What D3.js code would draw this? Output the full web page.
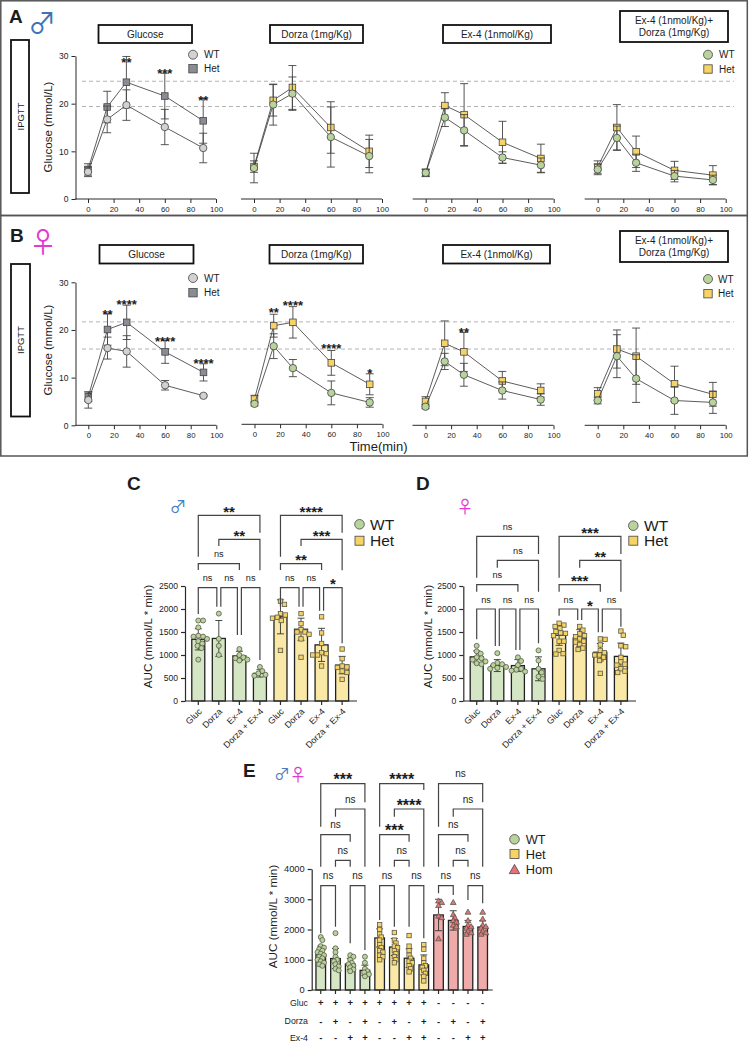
<!DOCTYPE html>
<html>
<head>
<meta charset="utf-8">
<script src="https://cdn.jsdelivr.net/npm/d3@7"></script>
<style>
  html, body {margin:0; padding:0; background:#fff;}
  text {font-family:"Liberation Sans", Arial, sans-serif; fill:#1c1c1c;}
</style>
</head>
<body>
<div id="chart"></div>
<script>
// time course, minutes
const timePoints = [0, 15, 30, 60, 90];
const timeTicks = [0, 20, 40, 60, 80, 100];
const glucoseTicks = [0, 10, 20, 30];

// panel A, male. mean + sd per drug
const aGlucWT = [5.7, 16.7, 19.7, 15.1, 10.7];
const aGlucWTsd = [1.0, 2.8, 3.2, 3.7, 3.1];
const aGlucHet = [6.2, 19.3, 24.5, 21.6, 16.4];
const aGlucHetsd = [1.2, 3.3, 5.4, 4.8, 4.7];
const aDorWT = [6.5, 19.8, 22.1, 13.0, 9.0];
const aDorWTsd = [3.1, 4.3, 3.5, 6.3, 3.5];
const aDorHet = [6.8, 20.7, 23.4, 15.0, 10.0];
const aDorHetsd = [1.2, 3.3, 4.6, 5.4, 3.4];
const aExWT = [5.5, 17.1, 14.4, 8.7, 7.1];
const aExWTsd = [0.8, 1.9, 3.3, 1.2, 1.5];
const aExHet = [5.5, 19.6, 17.7, 11.9, 8.5];
const aExHetsd = [0.7, 2.7, 6.5, 4.4, 3.0];
const aComboWT = [6.2, 12.8, 7.6, 4.8, 4.0];
const aComboWTsd = [1.1, 2.5, 1.8, 1.2, 1.0];
const aComboHet = [6.7, 15.0, 9.9, 6.0, 5.0];
const aComboHetsd = [1.3, 4.8, 3.3, 1.9, 2.0];

// panel B, female
const bGlucWT = [5.3, 16.2, 15.5, 8.4, 6.2];
const bGlucWTsd = [1.7, 2.3, 3.3, 1.0, 0.2];
const bGlucHet = [6.0, 20.1, 21.6, 15.4, 11.1];
const bGlucHetsd = [1.0, 3.3, 3.6, 2.4, 1.8];
const bDorWT = [4.5, 16.6, 12.0, 6.8, 4.8];
const bDorWTsd = [0.4, 2.6, 1.8, 2.5, 1.0];
const bDorHet = [5.5, 20.9, 21.6, 13.1, 8.6];
const bDorHetsd = [0.8, 2.4, 3.3, 2.6, 2.2];
const bExWT = [3.9, 13.4, 10.6, 7.3, 5.4];
const bExWTsd = [0.4, 1.7, 2.4, 1.8, 1.2];
const bExHet = [5.0, 17.2, 15.4, 9.3, 7.3];
const bExHetsd = [1.0, 4.7, 4.1, 2.0, 1.4];
const bComboWT = [5.2, 14.5, 9.8, 5.2, 4.8];
const bComboWTsd = [0.7, 4.5, 5.0, 2.9, 2.3];
const bComboHet = [6.6, 16.0, 14.5, 8.7, 6.5];
const bComboHetsd = [1.3, 4.0, 5.9, 3.7, 2.5];

// AUC bars
const aucCats = ["Gluc", "Dorza", "Ex-4", "Dorza + Ex-4"];
const aucTicks = [0, 500, 1000, 1500, 2000, 2500];
const eTicks = [0, 1000, 2000, 3000, 4000];

const cMeans = [1340, 1360, 980, 600, 1830, 1560, 1220, 780];
const cSd = [230, 390, 100, 80, 370, 240, 360, 190];
const cPts = [
  [1750, 1750, 1600, 1420, 1400, 1400, 1350, 1300, 1250, 1200, 1150, 900],
  [1900, 1350, 1200, 1000],
  [1130, 1000, 950, 930, 900, 880],
  [740, 650, 600, 570, 550],
  [2170, 2100, 1900, 1870, 1820, 1800, 1750, 1100],
  [1900, 1680, 1550, 1500, 1500, 1450, 1350, 950],
  [1830, 1480, 1250, 1050, 1030, 1000, 1000, 760],
  [1130, 920, 760, 740, 730, 650, 620, 470]
];

const dMeans = [960, 770, 770, 700, 1430, 1370, 1060, 970];
const dSd = [130, 130, 130, 260, 220, 180, 190, 290];
const dPts = [
  [1200, 1080, 1030, 950, 930, 900, 860, 820, 800],
  [1040, 830, 800, 780, 740, 720, 700],
  [950, 870, 780, 700, 680, 660, 640],
  [1100, 880, 700, 620, 530, 480],
  [1690, 1650, 1620, 1580, 1510, 1480, 1470, 1420, 1300, 1300, 1100, 1030, 1020],
  [1620, 1540, 1460, 1420, 1400, 1350, 1300, 1280, 1230, 1150, 1120],
  [1350, 1340, 1220, 1100, 1050, 1000, 1000, 950, 880, 600],
  [1520, 1430, 1200, 1180, 950, 850, 800, 780, 700, 650, 620]
];

const eMeans = [1170, 1040, 860, 650, 1720, 1420, 1050, 830, 2480, 2300, 2100, 2080];
const eSd = [280, 330, 190, 170, 300, 280, 310, 330, 520, 320, 200, 210];
const ePts = [
  [1750, 1650, 1450, 1400, 1350, 1300, 1250, 1200, 1150, 1100, 1050, 1000, 950, 900, 850, 800],
  [1880, 1380, 1250, 1100, 1000, 950, 850, 780, 700, 650],
  [1150, 1100, 1000, 900, 850, 800, 750, 680, 620],
  [1100, 900, 700, 620, 580, 520, 450],
  [2160, 2000, 1850, 1750, 1650, 1500, 1400, 1300, 1250, 1150, 1100, 1000],
  [1900, 1650, 1550, 1450, 1400, 1300, 1200, 1100, 1000, 900],
  [1800, 1450, 1300, 1150, 1050, 950, 900, 800, 700, 600],
  [1500, 1350, 1050, 900, 800, 750, 650, 550, 450, 300],
  [2950, 2900, 2800, 2450, 2400, 1700],
  [2900, 2500, 2400, 2300, 2250, 2150, 2100],
  [2580, 2300, 2150, 2100, 2050, 1950, 1900, 1850],
  [2580, 2350, 2150, 2100, 2050, 1950, 1900, 1850]
];
const rowGluc = ["+", "+", "+", "+", "+", "+", "+", "+", "-", "-", "-", "-"];
const rowDorza = ["-", "+", "-", "+", "-", "+", "-", "+", "-", "+", "-", "+"];
const rowEx = ["-", "-", "+", "+", "-", "-", "+", "+", "-", "-", "+", "+"];

const GREY_WT = "#d2d2d2", GREY_HET = "#8b8b95";
const GREEN = "#b8d39b", YELLOW = "#f6d365", RED = "#e2727c";
const BAR_GREEN = "#d5e6c5", BAR_YELLOW = "#fae8a6", BAR_RED = "#f0aaaa";
const SEX_FONT = '"Noto Sans CJK JP"';

const svg = d3.select("#chart").append("svg")
  .attr("width", 750)
  .attr("height", 1042)
  .style("display", "block");

function label(x, y, str, size, opts) {
  opts = opts || {};
  const t = svg.append("text")
    .attr("x", x).attr("y", y)
    .attr("font-size", size)
    .attr("text-anchor", opts.anchor || "middle")
    .attr("font-weight", opts.bold ? "bold" : "normal")
    .text(str);
  if (opts.rotate) t.attr("transform", `rotate(${opts.rotate},${x},${y})`);
  if (opts.fill) t.style("fill", opts.fill);
  if (opts.font) t.style("font-family", opts.font);
  return t;
}

function box(x0, y0, x1, y1, lines, size) {
  svg.append("rect")
    .attr("x", x0).attr("y", y0)
    .attr("width", x1 - x0).attr("height", y1 - y0)
    .attr("fill", "#fff").attr("stroke", "#111").attr("stroke-width", 1.8);
  const mid = (y0 + y1) / 2;
  lines.forEach((l, i) => {
    label((x0 + x1) / 2, mid + 3.5 + (i - (lines.length - 1) / 2) * 12, l, size);
  });
}

function marker(g, shape, x, y, size, fill, stroke, sw) {
  if (shape === "circle") {
    g.append("circle").attr("cx", x).attr("cy", y).attr("r", size / 2)
      .attr("fill", fill).attr("stroke", stroke).attr("stroke-width", sw);
  } else if (shape === "square") {
    g.append("rect").attr("x", x - size / 2).attr("y", y - size / 2)
      .attr("width", size).attr("height", size)
      .attr("fill", fill).attr("stroke", stroke).attr("stroke-width", sw);
  } else {
    const h = size * 0.9;
    g.append("path")
      .attr("d", `M${x},${y - h / 2 - 0.6}L${x + size / 2 + 0.4},${y + h / 2}L${x - size / 2 - 0.4},${y + h / 2}Z`)
      .attr("fill", fill).attr("stroke", stroke).attr("stroke-width", sw);
  }
}

function styleAxis(g, fontSize, sw) {
  g.selectAll("path").attr("stroke", "#2a2a2a").attr("stroke-width", sw);
  g.selectAll("line").attr("stroke", "#2a2a2a").attr("stroke-width", sw);
  g.selectAll("text")
    .attr("font-size", fontSize)
    .style("font-family", '"Liberation Sans", Arial, sans-serif')
    .style("fill", "#1c1c1c");
}

// ---- line plots
function timeSeries(x, y, means, sds, shape, fill) {
  const g = svg.append("g");
  timePoints.forEach((t, i) => {
    const hi = y(means[i] + sds[i]), lo = y(means[i] - sds[i]);
    g.append("path")
      .attr("d", `M${x(t)},${hi}V${lo}M${x(t) - 4},${hi}H${x(t) + 4}M${x(t) - 4},${lo}H${x(t) + 4}`)
      .attr("fill", "none").attr("stroke", "#444").attr("stroke-width", 0.9);
  });
  const line = d3.line().x((d, i) => x(timePoints[i])).y(d => y(d));
  g.append("path").datum(means).attr("d", line)
    .attr("fill", "none").attr("stroke", "#333").attr("stroke-width", 0.8);
  return () => means.forEach((m, i) => {
    marker(g, shape, x(timePoints[i]), y(m), shape === "circle" ? 7.4 : 6.6, fill, "#444", 0.8);
  });
}

function timePlot(o) {
  const x = d3.scaleLinear().domain([0, 100]).range([o.x0, o.x0 + 128]);
  const y = o.y;
  const axis = svg.append("g")
    .attr("transform", `translate(0,${o.axisY})`)
    .call(d3.axisBottom(x).tickValues(timeTicks).tickSize(4).tickSizeOuter(0));
  axis.select(".domain").attr("d", `M${o.x0 - 13},0H${o.x0 + 128}`);
  styleAxis(axis, 7.8, 1);
  // WT goes on top of Het
  const hetDots = timeSeries(x, y, o.het, o.hetSd, "square", o.hetFill);
  const wtDots = timeSeries(x, y, o.wt, o.wtSd, "circle", o.wtFill);
  hetDots();
  wtDots();
  (o.stars || []).forEach(s => {
    label(x(s[0]), y(s[1]) + 7.5, s[2], 13, {bold: true});
  });
}

function yAxisGlucose(y) {
  const g = svg.append("g")
    .attr("transform", "translate(75.5,0)")
    .call(d3.axisLeft(y).tickValues(glucoseTicks).tickSize(4).tickSizeOuter(0));
  styleAxis(g, 8.5, 1);
}

function legend2(x, y1, y2, fillA, fillB, tx) {
  const g = svg.append("g");
  marker(g, "circle", x, y1, 9, fillA, "#444", 0.8);
  marker(g, "square", x, y2, 8.4, fillB, "#444", 0.8);
  label(tx, y1 + 3.5, "WT", 10, {anchor: "start"});
  label(tx, y2 + 3.5, "Het", 10, {anchor: "start"});
}

// panel frames
svg.append("rect").attr("x", 0.8).attr("y", 0.8).attr("width", 746.5).attr("height", 214.7)
  .attr("fill", "none").attr("stroke", "#555").attr("stroke-width", 1.5);
svg.append("rect").attr("x", 0.8).attr("y", 215.5).attr("width", 746.5).attr("height", 240.5)
  .attr("fill", "none").attr("stroke", "#555").attr("stroke-width", 1.5);

const yA = d3.scaleLinear().domain([0, 30]).range([199, 56]);
const yB = d3.scaleLinear().domain([0, 30]).range([425.3, 282.3]);

// dashed reference lines
[[yA, 24.7], [yA, 19.4], [yB, 21.7], [yB, 16]].forEach(d => {
  svg.append("line").attr("x1", 82).attr("x2", 734)
    .attr("y1", d[0](d[1])).attr("y2", d[0](d[1]))
    .attr("stroke", "#aaa").attr("stroke-width", 0.9).attr("stroke-dasharray", "4,3");
});

label(9, 23, "A", 19, {anchor: "start", bold: true});
label(10, 242, "B", 19, {anchor: "start", bold: true});
label(42, 34, "♂", 28, {fill: "#3d74b8", font: SEX_FONT});
label(43, 252.5, "♀", 28, {fill: "#e23bd0", font: SEX_FONT});

box(11, 40, 29, 193, [], 10);
label(23.5, 116.5, "IPGTT", 9.5, {rotate: -90});
box(11, 264, 30, 416.5, [], 10);
label(24, 340, "IPGTT", 9.5, {rotate: -90});

box(98.5, 25, 192, 43, ["Glucose"], 10);
box(270, 25, 363, 43, ["Dorza (1mg/Kg)"], 10);
box(443, 25, 551, 43, ["Ex-4 (1nmol/Kg)"], 10);
box(620, 11, 728, 42, ["Ex-4 (1nmol/Kg)+", "Dorza (1mg/Kg)"], 10);
box(99.5, 245, 193.5, 263.5, ["Glucose"], 10);
box(269.5, 245, 363, 263.5, ["Dorza (1mg/Kg)"], 10);
box(443, 245, 550, 263.5, ["Ex-4 (1nmol/Kg)"], 10);
box(620, 231, 728, 262, ["Ex-4 (1nmol/Kg)+", "Dorza (1mg/Kg)"], 10);

yAxisGlucose(yA);
yAxisGlucose(yB);
label(52, 127, "Glucose (mmol/L)", 11.5, {rotate: -90});
label(52, 350, "Glucose (mmol/L)", 11.5, {rotate: -90});

timePlot({x0: 88, y: yA, axisY: 199, wt: aGlucWT, wtSd: aGlucWTsd, het: aGlucHet, hetSd: aGlucHetsd,
  wtFill: GREY_WT, hetFill: GREY_HET, stars: [[30, 29.3, "**"], [60, 27, "***"], [90, 21.3, "**"]]});
timePlot({x0: 254, y: yA, axisY: 199, wt: aDorWT, wtSd: aDorWTsd, het: aDorHet, hetSd: aDorHetsd,
  wtFill: GREEN, hetFill: YELLOW});
timePlot({x0: 425.7, y: yA, axisY: 199, wt: aExWT, wtSd: aExWTsd, het: aExHet, hetSd: aExHetsd,
  wtFill: GREEN, hetFill: YELLOW});
timePlot({x0: 597.7, y: yA, axisY: 199, wt: aComboWT, wtSd: aComboWTsd, het: aComboHet, hetSd: aComboHetsd,
  wtFill: GREEN, hetFill: YELLOW});

timePlot({x0: 88.3, y: yB, axisY: 425.3, wt: bGlucWT, wtSd: bGlucWTsd, het: bGlucHet, hetSd: bGlucHetsd,
  wtFill: GREY_WT, hetFill: GREY_HET,
  stars: [[15, 23.8, "**"], [30, 25.9, "****"], [60, 18.3, "****"], [90, 13.6, "****"]]});
timePlot({x0: 254.5, y: yB, axisY: 424.3, wt: bDorWT, wtSd: bDorWTsd, het: bDorHet, hetSd: bDorHetsd,
  wtFill: GREEN, hetFill: YELLOW,
  stars: [[15, 24.2, "**"], [30, 25.7, "****"], [60, 16.7, "****"], [90, 11.5, "*"]]});
timePlot({x0: 425.5, y: yB, axisY: 425.3, wt: bExWT, wtSd: bExWTsd, het: bExHet, hetSd: bExHetsd,
  wtFill: GREEN, hetFill: YELLOW, stars: [[30, 20.2, "**"]]});
timePlot({x0: 597.7, y: yB, axisY: 425.3, wt: bComboWT, wtSd: bComboWTsd, het: bComboHet, hetSd: bComboHetsd,
  wtFill: GREEN, hetFill: YELLOW});

legend2(193, 54.7, 68.7, GREY_WT, GREY_HET, 204);
legend2(708, 54.7, 69, GREEN, YELLOW, 719);
legend2(193, 278, 292.7, GREY_WT, GREY_HET, 204);
legend2(708, 279, 293.7, GREEN, YELLOW, 718);
label(378.5, 451, "Time(min)", 13);

// ---- AUC bars
// spreads the dots of one bar sideways so they do not sit on each other
function swarm(values, y, minDist) {
  const placed = [];
  values.forEach(v => {
    const py = y(v);
    let off = 0;
    for (let k = 0; k < 40; k++) {
      off = (k % 2 ? 1 : -1) * Math.ceil(k / 2) * 0.8;
      if (placed.every(p => Math.hypot(p.off - off, p.py - py) >= minDist)) break;
    }
    placed.push({off: off, py: py});
  });
  return placed;
}

function barPanel(o) {
  const n = o.means.length;
  const x = d3.scaleBand().domain(d3.range(n)).range([o.x0, o.x0 + o.step * n]).paddingInner(0);
  const cx = i => x(i) + x.bandwidth() / 2;
  const y = d3.scaleLinear().domain([0, o.top]).range([o.bottom, o.yTop]);
  const g = svg.append("g");

  g.selectAll("rect").data(o.means).enter().append("rect")
    .attr("x", (d, i) => cx(i) - o.barW / 2)
    .attr("y", d => y(d))
    .attr("width", o.barW)
    .attr("height", d => y(0) - y(d))
    .attr("fill", (d, i) => o.barFill(i))
    .attr("stroke", "#222").attr("stroke-width", 1.3);

  o.means.forEach((m, i) => {
    const hi = y(m + o.sd[i]), lo = y(m - o.sd[i]);
    g.append("path")
      .attr("d", `M${cx(i)},${hi}V${lo}M${cx(i) - 3.5},${hi}H${cx(i) + 3.5}M${cx(i) - 3.5},${lo}H${cx(i) + 3.5}`)
      .attr("fill", "none").attr("stroke", "#333").attr("stroke-width", 0.9);
    swarm(o.pts[i], y, o.minDist).forEach(p => {
      const s = o.shape(i);
      marker(g, s, cx(i) + p.off, p.py, s === "square" ? o.dot - 0.6 : o.dot, o.dotFill(i), "#5a5a4a", 0.8);
    });
  });

  const axX = svg.append("g")
    .attr("transform", `translate(0,${o.bottom})`)
    .call(d3.axisBottom(x).tickSize(4).tickSizeOuter(0).tickFormat(o.cats ? (d => o.cats[d % 4]) : ""));
  axX.select(".domain").attr("d", `M${o.axisX},0H${o.axisEnd}`);
  styleAxis(axX, 8.9, 1.2);
  if (o.cats) {
    axX.selectAll("text")
      .attr("text-anchor", "end")
      .attr("x", 0).attr("y", 0).attr("dy", 0)
      .attr("transform", "translate(4,11) rotate(-45)");
  }
  const axY = svg.append("g")
    .attr("transform", `translate(${o.axisX},0)`)
    .call(d3.axisLeft(y).tickValues(o.ticks).tickSize(4).tickSizeOuter(0).tickFormat(d3.format("d")));
  styleAxis(axY, o.tickFont, 1.2);

  // significance brackets: from, to, level, left end, right end, label, nudge left, nudge right
  o.brackets.forEach(b => {
    const xa = cx(b[0]) + (b[6] ? 2 : 0), xb = cx(b[1]) - (b[7] ? 2 : 0);
    svg.append("path")
      .attr("d", `M${xa},${b[3]}V${b[2]}H${xb}V${b[4]}`)
      .attr("fill", "none").attr("stroke", "#444").attr("stroke-width", 1.2);
    const stars = b[5][0] === "*";
    label((xa + xb) / 2, stars ? b[2] + 1.7 : b[2] - 6.2, b[5], stars ? o.starFont : o.nsFont, {bold: stars});
  });
  return {x: cx, y: y};
}

const Z = (off, v) => off + v / 3; // helper for the bracket heights

const cY = v => Z(460, v);
const cBrackets = [
  [0, 3, cY(166), cY(290), cY(218), "**"],
  [1, 3, cY(238), cY(258), cY(331), "**"],
  [0, 2, cY(311), cY(330), cY(330), "ns"],
  [0, 1, cY(383), cY(462), cY(440), "ns", 0, 1],
  [1, 2, cY(383), cY(440), cY(525), "ns", 1, 1],
  [2, 3, cY(383), cY(525), cY(600), "ns", 1, 0],
  [4, 7, cY(166), cY(290), cY(218), "****"],
  [5, 7, cY(238), cY(258), cY(331), "***"],
  [4, 6, cY(311), cY(330), cY(330), "**"],
  [4, 5, cY(383), cY(440), cY(440), "ns", 0, 1],
  [5, 6, cY(383), cY(440), cY(452), "ns", 1, 1],
  [6, 7, cY(383), cY(452), cY(550), "*", 1, 0]
];
const dBrackets = [
  [0, 3, cY(229), cY(353), cY(282), "ns"],
  [1, 3, cY(301), cY(323), cY(395), "ns"],
  [0, 2, cY(374), cY(395), cY(395), "ns"],
  [0, 1, cY(447), cY(538), cY(558), "ns", 0, 1],
  [1, 2, cY(447), cY(558), cY(570), "ns", 1, 1],
  [2, 3, cY(447), cY(570), cY(550), "ns", 1, 0],
  [4, 7, cY(229), cY(353), cY(282), "***"],
  [5, 7, cY(301), cY(323), cY(395), "**"],
  [4, 6, cY(374), cY(395), cY(395), "***"],
  [4, 5, cY(447), cY(467), cY(480), "ns", 0, 1],
  [5, 6, cY(447), cY(480), cY(517), "*", 1, 1],
  [6, 7, cY(447), cY(517), cY(500), "ns", 1, 0]
];
const eY = v => Z(700, v);
const eBrackets = [
  [0, 3, eY(251), eY(380), eY(307), "***"],
  [1, 3, eY(327), eY(350), eY(500), "ns"],
  [0, 2, eY(404), eY(500), eY(425), "ns"],
  [1, 2, eY(481), eY(500), eY(500), "ns"],
  [0, 1, eY(557), eY(700), eY(680), "ns"],
  [2, 3, eY(557), eY(730), eY(750), "ns"],
  [4, 7, eY(251), eY(380), eY(270), "****"],
  [5, 7, eY(327), eY(350), eY(500), "****"],
  [4, 6, eY(404), eY(500), eY(425), "***"],
  [5, 6, eY(481), eY(500), eY(500), "ns"],
  [4, 5, eY(557), eY(660), eY(680), "ns"],
  [6, 7, eY(557), eY(680), eY(715), "ns"],
  [8, 11, eY(251), eY(380), eY(307), "ns"],
  [9, 11, eY(327), eY(350), eY(500), "ns"],
  [8, 10, eY(404), eY(500), eY(425), "ns"],
  [9, 10, eY(481), eY(500), eY(500), "ns"],
  [8, 9, eY(557), eY(580), eY(585), "ns"],
  [10, 11, eY(557), eY(600), eY(610), "ns"]
];

const groupFill4 = (a, b) => i => (i < 4 ? a : b);

barPanel({x0: 188, step: 20.55, barW: 13, top: 2500, bottom: 701, yTop: 586, axisX: 185, axisEnd: 357,
  means: cMeans, sd: cSd, pts: cPts, cats: aucCats, ticks: aucTicks, minDist: 4.6, dot: 5, tickFont: 8.6, nsFont: 9.2, starFont: 15,
  barFill: groupFill4(BAR_GREEN, BAR_YELLOW), dotFill: groupFill4(GREEN, YELLOW),
  shape: i => (i < 4 ? "circle" : "square"), brackets: cBrackets});
barPanel({x0: 466.4, step: 20.6, barW: 13, top: 2500, bottom: 701, yTop: 586, axisX: 463.3, axisEnd: 636,
  means: dMeans, sd: dSd, pts: dPts, cats: aucCats, ticks: aucTicks, minDist: 4.6, dot: 5, tickFont: 8.6, nsFont: 9.2, starFont: 15,
  barFill: groupFill4(BAR_GREEN, BAR_YELLOW), dotFill: groupFill4(GREEN, YELLOW),
  shape: i => (i < 4 ? "circle" : "square"), brackets: dBrackets});
const ePanel = barPanel({x0: 313.4, step: 14.72, barW: 9.6, top: 4000, bottom: 990, yTop: 869, axisX: 311.7, axisEnd: 492.7,
  means: eMeans, sd: eSd, pts: ePts, cats: null, ticks: eTicks, minDist: 3.4, dot: 5, tickFont: 9.3, nsFont: 10, starFont: 16,
  barFill: i => (i < 4 ? BAR_GREEN : i < 8 ? BAR_YELLOW : BAR_RED),
  dotFill: i => (i < 4 ? GREEN : i < 8 ? YELLOW : RED),
  shape: i => (i < 4 ? "circle" : i < 8 ? "square" : "triangle"), brackets: eBrackets});

[[rowGluc, 1006], [rowDorza, 1024.5], [rowEx, 1041]].forEach(r => {
  r[0].forEach((s, i) => label(ePanel.x(i), r[1], s, 9.5, {bold: true}));
});
label(308, 1006, "Gluc", 8.8, {anchor: "end"});
label(308, 1024, "Dorza", 8.8, {anchor: "end"});
label(308, 1041, "Ex-4", 8.8, {anchor: "end"});

label(127, 490, "C", 19, {anchor: "start", bold: true});
label(416, 490, "D", 19, {anchor: "start", bold: true});
label(243, 777, "E", 19, {anchor: "start", bold: true});
label(178, 513, "♂", 17, {fill: "#4a7cc0", font: SEX_FONT});
label(465, 513, "♀", 17, {fill: "#e23bd0", font: SEX_FONT});
label(282, 780, "♂", 16, {fill: "#4a7cc0", font: SEX_FONT});
label(298, 781, "♀", 17, {fill: "#e23bd0", font: SEX_FONT});

label(152, 636.5, "AUC (mmol/L * min)", 11.7, {rotate: -90});
label(432, 636.5, "AUC (mmol/L * min)", 11.7, {rotate: -90});
label(277, 916.5, "AUC (mmol/L * min)", 11.7, {rotate: -90});

function legendBig(x, ys, tx, size, sym) {
  const g = svg.append("g");
  sym.forEach((s, i) => {
    marker(g, s[0], x, ys[i], s[0] === "square" ? 9 : 9.6, s[1], "#444", 0.8);
    label(tx, ys[i] + size * 0.36, s[2], size, {anchor: "start"});
  });
}
legendBig(359.5, [524.3, 540.7], 370, 15.5, [["circle", GREEN, "WT"], ["square", YELLOW, "Het"]]);
legendBig(633.3, [525.7, 540.7], 644, 15.5, [["circle", GREEN, "WT"], ["square", YELLOW, "Het"]]);
legendBig(514.5, [839.3, 854, 869.3], 525.7, 12.8, [["circle", GREEN, "WT"], ["square", YELLOW, "Het"], ["triangle", RED, "Hom"]]);
</script>
</body>
</html>
